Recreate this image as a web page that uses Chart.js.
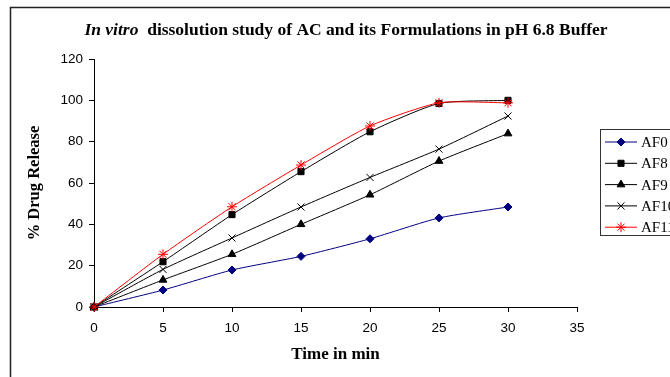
<!DOCTYPE html>
<html>
<head>
<meta charset="utf-8">
<title>In vitro dissolution study</title>
<script src="https://cdn.jsdelivr.net/npm/chart.js@4/dist/chart.umd.min.js"></script>
<style>
  body { margin: 0; background: #fff; }
  #wrap { position: relative; width: 670px; height: 377px; }
</style>
</head>
<body>
<div id="wrap"><canvas id="dissChart" width="670" height="377"></canvas></div>
<script>
// time points (min)
var times = [0, 5, 10, 15, 20, 25, 30];
// % drug release per formulation
var af0 = [0, 8.2, 17.9, 24.5, 33.0, 43.1, 48.4];
var af8 = [0, 21.9, 44.7, 65.5, 84.8, 98.5, 100.0];
var af9 = [0, 13.1, 25.5, 40.0, 54.3, 70.6, 83.9];
var af10 = [0, 18.2, 33.4, 48.4, 62.7, 76.4, 92.4];
var af11 = [0, 25.5, 48.5, 68.7, 87.6, 98.8, 98.8];
var xTicks = [0, 5, 10, 15, 20, 25, 30, 35];
var yTicks = [0, 20, 40, 60, 80, 100, 120];

function toPoints(vals) {
    return vals.map(function(v, i) { return { x: times[i], y: v }; });
}

function makeSet(name, vals, color, style, radius, order) {
    return {
        label: name,
        data: toPoints(vals),
        borderColor: color,
        backgroundColor: color,
        pointBackgroundColor: color,
        pointBorderColor: color,
        borderWidth: 1,
        pointStyle: style,
        pointRadius: radius,
        pointBorderWidth: 1,
        tension: 0.2,
        clip: false,
        order: order
    };
}

// frame + title
var framePlugin = {
    id: 'frame',
    beforeDraw: function(chart) {
        var c = chart.ctx;
        c.save();
        c.fillStyle = '#fff';
        c.fillRect(0, 0, chart.width, chart.height);
        c.strokeStyle = '#222';
        c.lineWidth = 1.5;
        c.beginPath();
        c.moveTo(10.5, 400);
        c.lineTo(10.5, 7.5);
        c.lineTo(700, 7.5);
        c.stroke();

        var part1 = 'In vitro';
        var part2 = '  dissolution study of AC and its Formulations in pH 6.8 Buffer';
        var f1 = 'italic bold 17.5px "Liberation Serif"';
        var f2 = 'bold 17.5px "Liberation Serif"';
        c.font = f1;
        var w1 = c.measureText(part1).width;
        c.font = f2;
        var w2 = c.measureText(part2).width;
        var x0 = 346 - (w1 + w2) / 2;
        c.fillStyle = '#000';
        c.textBaseline = 'middle';
        c.textAlign = 'left';
        c.font = f1;
        c.fillText(part1, x0, 30);
        c.font = f2;
        c.fillText(part2, x0 + w1, 30);
        c.restore();
    }
};

// legend box on the right, partly cut off like the original
var legendPlugin = {
    id: 'boxLegend',
    afterDraw: function(chart) {
        var c = chart.ctx;
        c.save();
        c.strokeStyle = '#333';
        c.lineWidth = 1;
        c.strokeRect(600.5, 129.5, 120, 106);
        c.font = '15px "Liberation Serif"';
        c.textBaseline = 'middle';
        c.textAlign = 'left';
        chart.data.datasets.forEach(function(ds, i) {
            var y = 142 + i * 21.3;
            c.strokeStyle = ds.borderColor;
            c.fillStyle = ds.borderColor;
            c.lineWidth = 1;
            c.beginPath();
            c.moveTo(605, y);
            c.lineTo(637, y);
            c.stroke();
            Chart.helpers.drawPoint(c, {
                pointStyle: ds.pointStyle,
                radius: ds.pointRadius,
                rotation: 0,
                borderWidth: 1
            }, 621, y);
            c.fillStyle = '#000';
            c.fillText(ds.label, 641, y + 1);
        });
        c.restore();
    }
};

var ctx = document.getElementById('dissChart').getContext('2d');
var dissChart = new Chart(ctx, {
    type: 'line',
    data: {
        datasets: [
            makeSet('AF0', af0, '#000080', 'rectRot', 4, 5),
            makeSet('AF8', af8, '#000000', 'rect', 4.3, 4),
            makeSet('AF9', af9, '#000000', 'triangle', 4.5, 3),
            makeSet('AF10', af10, '#000000', 'crossRot', 5, 2),
            makeSet('AF11', af11, '#ff0000', 'star', 5, 1)
        ]
    },
    options: {
        responsive: false,
        animation: false,
        events: [],
        layout: { padding: { left: 10, top: 59, right: 93, bottom: 0 } },
        plugins: {
            legend: { display: false },
            title: { display: false },
            tooltip: { enabled: false }
        },
        scales: {
            x: {
                type: 'linear',
                min: 0,
                max: 35,
                afterBuildTicks: function(scale) {
                    scale.ticks = xTicks.map(function(v) { return { value: v }; });
                },
                afterFit: function(scale) { scale.height = 70; },
                grid: { drawOnChartArea: false, color: '#000', tickLength: 5 },
                border: { color: '#000', width: 1 },
                ticks: {
                    color: '#000',
                    padding: 8,
                    maxRotation: 0,
                    font: { family: '"Liberation Sans"', size: 13.5 }
                },
                title: {
                    display: true,
                    text: 'Time in min',
                    color: '#000',
                    padding: { top: 0, bottom: 12 },
                    font: { family: '"Liberation Serif"', size: 17, weight: 'bold' }
                }
            },
            y: {
                min: 0,
                max: 120,
                afterBuildTicks: function(scale) {
                    scale.ticks = yTicks.map(function(v) { return { value: v }; });
                },
                afterFit: function(scale) { scale.width = 84; },
                grid: { drawOnChartArea: false, color: '#000', tickLength: 5 },
                border: { color: '#000', width: 1 },
                ticks: {
                    color: '#000',
                    padding: 6,
                    font: { family: '"Liberation Sans"', size: 13.5 }
                },
                title: {
                    display: true,
                    text: '% Drug Release',
                    color: '#000',
                    padding: { top: 15 },
                    font: { family: '"Liberation Serif"', size: 16.5, weight: 'bold' }
                }
            }
        }
    },
    plugins: [framePlugin, legendPlugin]
});
</script>
</body>
</html>
